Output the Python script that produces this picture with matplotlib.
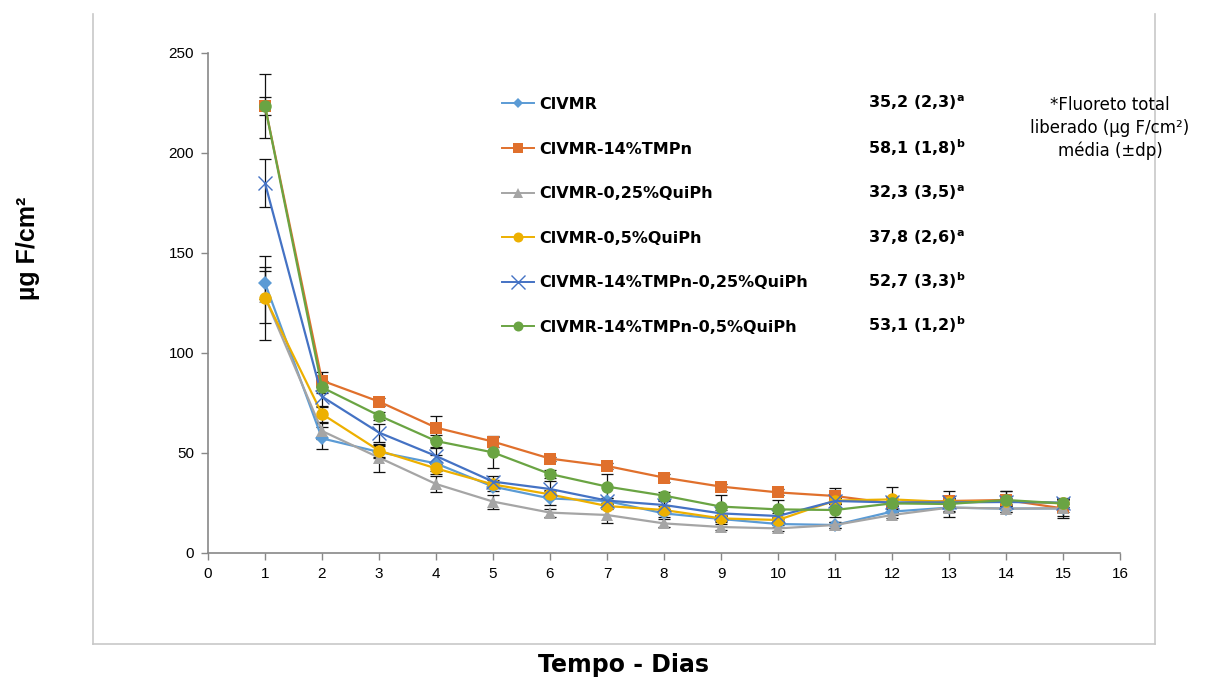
import numpy as np
import matplotlib
matplotlib.use("Agg")
import matplotlib.pyplot as plt
from matplotlib.lines import Line2D

# Fluoride release per day for each cement formulation (ug F/cm2)
days = list(range(1, 16))

names = [
    "ClVMR",
    "ClVMR-14%TMPn",
    "ClVMR-0,25%QuiPh",
    "ClVMR-0,5%QuiPh",
    "ClVMR-14%TMPn-0,25%QuiPh",
    "ClVMR-14%TMPn-0,5%QuiPh",
]

clvmr = [135.0, 57.3, 50.5, 44.8, 33.2, 27.3, 26.0, 19.8, 17.0, 14.5, 14.0, 20.7, 22.7, 22.2, 22.3]
tmpn = [223.5, 86.2, 75.7, 62.7, 55.7, 47.2, 43.5, 37.7, 33.2, 30.3, 28.5, 24.8, 26.0, 26.5, 22.3]
qui025 = [128.0, 61.0, 47.7, 34.5, 25.7, 20.2, 19.0, 14.8, 13.0, 12.3, 14.0, 19.0, 22.7, 22.2, 22.3]
qui05 = [127.7, 69.5, 51.2, 42.3, 34.3, 29.3, 23.5, 21.5, 17.3, 16.5, 26.2, 26.8, 25.5, 26.0, 24.8]
tmpn_qui025 = [185.0, 78.2, 60.2, 48.5, 35.7, 32.0, 26.2, 24.0, 19.8, 18.5, 26.0, 25.3, 25.3, 25.5, 25.2]
tmpn_qui05 = [223.5, 82.8, 68.7, 56.0, 50.3, 39.5, 33.2, 28.7, 23.2, 21.8, 21.5, 24.8, 24.5, 26.5, 24.8]

# standard deviations
clvmr_sd = [8.0, 5.5, 3.0, 4.0, 2.0, 3.5, 1.5, 2.0, 1.5, 1.5, 1.5, 1.5, 4.5, 1.5, 2.0]
tmpn_sd = [16.0, 4.5, 2.0, 6.0, 2.5, 1.0, 1.5, 2.0, 1.5, 1.5, 4.0, 1.5, 5.0, 4.5, 5.0]
qui025_sd = [13.0, 4.0, 7.0, 4.0, 3.5, 2.0, 4.0, 2.0, 1.5, 1.5, 1.5, 1.5, 2.0, 1.5, 4.0]
qui05_sd = [21.0, 4.0, 3.0, 3.0, 2.0, 2.0, 1.5, 2.0, 1.5, 1.5, 1.5, 6.4, 2.0, 1.5, 2.0]
tmpn_qui025_sd = [12.0, 5.0, 4.5, 4.0, 3.0, 4.0, 1.5, 2.0, 1.5, 1.5, 1.5, 1.5, 2.0, 1.5, 2.0]
tmpn_qui05_sd = [4.5, 3.0, 2.0, 3.0, 8.0, 2.0, 6.5, 2.0, 6.0, 4.5, 3.5, 1.5, 2.0, 4.5, 2.0]

# total fluoride released, mean (sd) and significance letter
totals = ["35,2 (2,3)", "58,1 (1,8)", "32,3 (3,5)", "37,8 (2,6)", "52,7 (3,3)", "53,1 (1,2)"]
letters = ["a", "b", "a", "a", "b", "b"]

series = [clvmr, tmpn, qui025, qui05, tmpn_qui025, tmpn_qui05]
errors = [clvmr_sd, tmpn_sd, qui025_sd, qui05_sd, tmpn_qui025_sd, tmpn_qui05_sd]
colors = ["#5B9BD5", "#E0702C", "#A5A5A5", "#EDB000", "#4472C4", "#6AA443"]
markers = ["D", "s", "^", "o", "x", "o"]
msizes = [7, 8.5, 8.5, 9, 10, 9]

W, H = 1207, 684
fig = plt.figure(figsize=(W / 100, H / 100), dpi=100)
ax = fig.add_axes([208 / W, 1 - 553 / H, 912 / W, 500 / H])

handles = []
for y, e, c, m, ms, name in zip(series, errors, colors, markers, msizes, names):
    ax.errorbar(days, y, yerr=e, fmt="none", ecolor="#111111", elinewidth=0.9,
                capsize=4, capthick=0.9, zorder=1.5)
    mew = 1.0 if m == "x" else 0
    ax.plot(days, y, color=c, lw=1.6, marker=m, markersize=ms,
            markeredgewidth=mew, markeredgecolor=c, zorder=2)
    hms = ms * 0.8 if m != "x" else ms
    handles.append(Line2D([], [], color=c, lw=1.4, marker=m, markersize=hms,
                          markeredgewidth=mew, markeredgecolor=c))

ax.set_xlim(0, 16)
ax.set_ylim(0, 250)
ax.set_xticks(range(0, 17))
ax.set_yticks(range(0, 251, 50))
for side in ["top", "right"]:
    ax.spines[side].set_visible(False)
for side in ["left", "bottom"]:
    ax.spines[side].set_color("#888888")
    ax.spines[side].set_linewidth(1.2)
ax.tick_params(direction="out", length=5, width=1, color="#888888",
               labelsize=11, pad=5)
for lab in ax.get_xticklabels() + ax.get_yticklabels():
    lab.set_fontfamily("Liberation Sans")

leg = ax.legend(handles, names, loc="upper left", bbox_to_anchor=(0.322, 0.912),
                frameon=False, handlelength=2.0, handletextpad=0.35,
                borderaxespad=0, borderpad=0, labelspacing=1.85,
                prop={"family": "DejaVu Sans", "weight": "bold", "size": 11.5})

row_y = [103, 149, 193, 238, 282, 326]
for yp, t, l in zip(row_y, totals, letters):
    ax.text((868 - 208) / 912, (553 - yp - 5) / 500, t + r"$^{\mathbf{" + l + "}}$",
            transform=ax.transAxes, ha="left", va="baseline",
            fontsize=11.5, fontweight="bold", family="DejaVu Sans")

fig.text(1110 / W, 1 - 128 / H, "*Fluoreto total\nliberado (µg F/cm²)\nmédia (±dp)",
         ha="center", va="center", fontsize=12, linespacing=1.3,
         family="DejaVu Sans")

fig.text(28 / W, 1 - 248 / H, "µg F/cm²", rotation=90, ha="center", va="center",
         fontsize=18, fontweight="bold", family="Liberation Sans")
fig.text(623 / W, 1 - 665 / H, "Tempo - Dias", ha="center", va="center",
         fontsize=17, fontweight="bold", family="DejaVu Sans")

# chart area frame (left, right and bottom edges)
frame = dict(color="#C8C8C8", lw=1.2, transform=fig.transFigure)
x0, x1 = 93 / W, 1155 / W
y0, y1 = 1 - 644 / H, 1 - 14 / H
fig.add_artist(Line2D([x0, x0], [y0, y1], **frame))
fig.add_artist(Line2D([x1, x1], [y0, y1], **frame))
fig.add_artist(Line2D([x0, x1], [y0, y0], **frame))

fig.savefig("out.png", dpi=100)
